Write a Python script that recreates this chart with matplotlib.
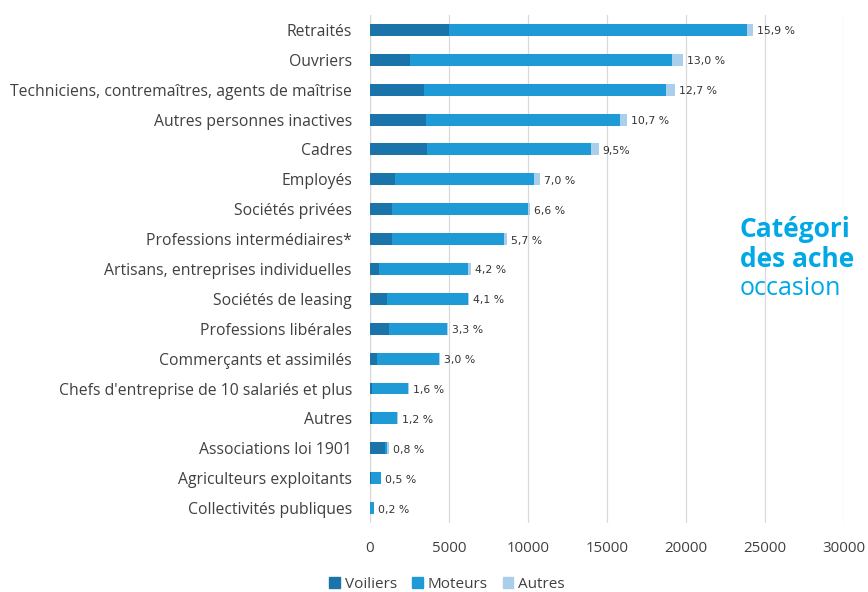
import matplotlib.pyplot as plt
from matplotlib.patches import Patch
import numpy as np

# Data (number of buyers per category)
categories = ['Retraités', 'Ouvriers', 'Techniciens, contremaîtres, agents de maîtrise',
              'Autres personnes inactives', 'Cadres', 'Employés', 'Sociétés privées',
              'Professions intermédiaires*', 'Artisans, entreprises individuelles',
              'Sociétés de leasing', 'Professions libérales', 'Commerçants et assimilés',
              "Chefs d'entreprise de 10 salariés et plus", 'Autres', 'Associations loi 1901',
              'Agriculteurs exploitants', 'Collectivités publiques']
voiliers = [5000, 2530, 3420, 3520, 3590, 1580, 1370, 1410, 590, 1100, 1220, 420, 120, 100, 950, 40, 20]
moteurs = [18840, 16560, 15310, 12300, 10380, 8800, 8650, 7070, 5630, 5100, 3670, 3970, 2260, 1630, 150, 640, 230]
autres = [400, 700, 600, 430, 500, 380, 80, 170, 150, 50, 60, 60, 60, 40, 120, 20, 10]
pct_labels = ['15,9 %', '13,0 %', '12,7 %', '10,7 %', '9,5%', '7,0 %', '6,6 %', '5,7 %',
              '4,2 %', '4,1 %', '3,3 %', '3,0 %', '1,6 %', '1,2 %', '0,8 %', '0,5 %', '0,2 %']
xticks = [0, 5000, 10000, 15000, 20000, 25000, 30000]

c_voil = '#1b74a9'
c_mot = '#1e9ad6'
c_aut = '#a9cfea'
txt = '#404040'

fig = plt.figure(figsize=(8.68, 5.92), dpi=100)
ax = fig.add_axes([0.4263, 0.1166, 0.5461, 0.8581])

y = np.arange(len(categories))
v = np.array(voiliers)
m = np.array(moteurs)
a = np.array(autres)
h = 0.4
ax.barh(y, v, h, color=c_voil, zorder=3)
ax.barh(y, m, h, left=v, color=c_mot, zorder=3)
ax.barh(y, a, h, left=v + m, color=c_aut, zorder=3)

total = v + m + a
for yi, t, lab in zip(y, total, pct_labels):
    ax.text(t + 250, yi + 0.05, lab, va='center', ha='left', fontsize=7.8,
            color='#333333', family='DejaVu Sans')

ax.set_ylim(len(categories) - 0.5, -0.5)
ax.set_xlim(0, 30000)
ax.set_yticks(y)
ax.set_yticklabels(categories, fontsize=11.3, color=txt, family='Open Sans')
ax.set_xticks(xticks)
ax.set_xticklabels([str(t) for t in xticks], fontsize=10.8, color=txt, family='Open Sans')
ax.tick_params(axis='y', length=0, pad=13)
ax.tick_params(axis='x', length=0, pad=13)
ax.grid(axis='x', color='#d9d9d9', linewidth=0.9, zorder=0)
for s in ax.spines.values():
    s.set_visible(False)
ax.axvline(0, color='#d9d9d9', linewidth=0.9, zorder=1)

handles = [Patch(color=c_voil, label='Voiliers'),
           Patch(color=c_mot, label='Moteurs'),
           Patch(color=c_aut, label='Autres')]
fig.legend(handles=handles, loc='center', bbox_to_anchor=(0.515, 0.013), ncol=3,
           frameon=False, handlelength=0.7, handleheight=0.7, handletextpad=0.3,
           columnspacing=1.0, prop={'family': 'Open Sans', 'size': 11}, labelcolor=txt)

# Side title, only partly visible at the right edge of the reference
side = '#00a9e6'
fig.text(0.852, 0.612, 'Catégori', fontsize=19, fontweight='bold', color=side,
         family='Open Sans', va='center')
fig.text(0.852, 0.561, 'des ache', fontsize=19, fontweight='bold', color=side,
         family='Open Sans', va='center')
fig.text(0.852, 0.512, 'occasion', fontsize=18, color=side, family='Open Sans', va='center')

fig.savefig('out.png', dpi=100)
